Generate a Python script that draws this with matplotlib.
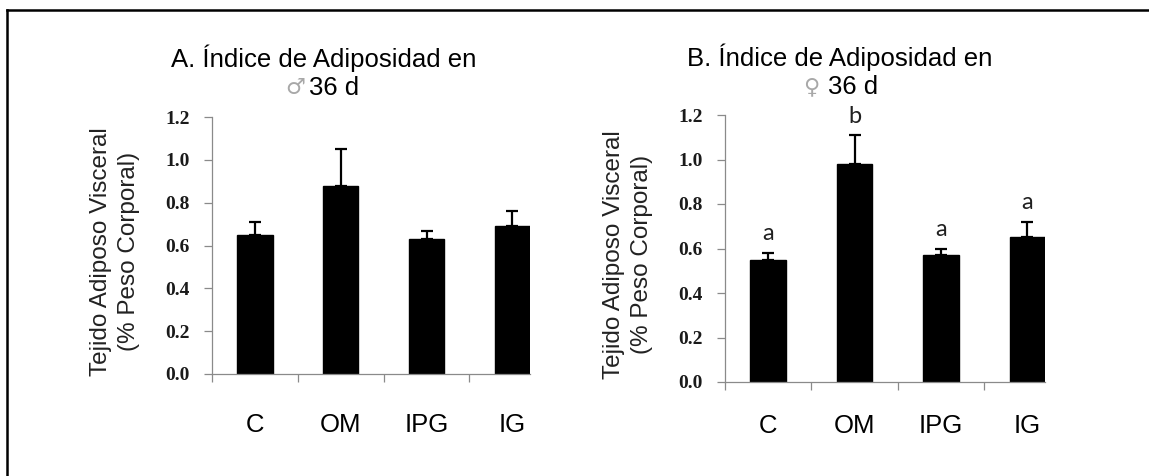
import matplotlib
matplotlib.use("Agg")
import matplotlib.pyplot as plt
from matplotlib.lines import Line2D
import numpy as np

# ---- data ----
groups = ["C", "OM", "IPG", "IG"]

male_mean = [0.65, 0.88, 0.63, 0.69]
male_se = [0.06, 0.17, 0.04, 0.07]

female_mean = [0.55, 0.98, 0.57, 0.65]
female_se = [0.03, 0.13, 0.03, 0.07]
female_letters = ["a", "b", "a", "a"]

y_ticks = [0.0, 0.2, 0.4, 0.6, 0.8, 1.0, 1.2]
y_label = "Tejido Adiposo Visceral\n(% Peso Corporal)"
title_line1 = ["A. Índice de Adiposidad en", "B. Índice de Adiposidad en"]
sex_symbol = ["\u2642", "\u2640"]
title_line2 = "36 d"

# ---- figure ----
W, H = 1149, 476
DPI = 100
fig = plt.figure(figsize=(W / DPI, H / DPI), dpi=DPI)
fig.patch.set_facecolor("white")


def fx(px):
    return px / W


def fy(py):
    return 1 - py / H


SANS = "Liberation Sans"
SERIF = "Liberation Serif"
AXIS_GRAY = "#8a8a8a"
BAR_W = 0.41

# outer frame: top and left edges
fig.add_artist(Line2D([fx(7), 1.0], [fy(10), fy(10)], color="black", lw=1.8,
                      transform=fig.transFigure))
fig.add_artist(Line2D([fx(7), fx(7)], [fy(10), 0.0], color="black", lw=1.8,
                      transform=fig.transFigure))

panels = [
    # axes box in px (left, right, top, bottom) plus text anchors
    dict(box=(212, 530, 117, 374), mean=male_mean, se=male_se, letters=None,
         title_cx=324, t1y=58, t2y=88, sym_x=295, txt_x=309, lab_y=425),
    dict(box=(725, 1045, 115, 382), mean=female_mean, se=female_se,
         letters=female_letters,
         title_cx=840, t1y=57, t2y=87, sym_x=811, txt_x=828, lab_y=426),
]

for i, p in enumerate(panels):
    l, r, t, b = p["box"]
    ax = fig.add_axes([fx(l), fy(b), fx(r - l), (b - t) / H])
    x = np.arange(len(groups))
    mean = np.array(p["mean"])
    se = np.array(p["se"])
    ax.bar(x, mean, width=BAR_W, color="black", edgecolor="black", zorder=2)
    ax.errorbar(x, mean, yerr=[np.zeros_like(se), se], fmt="none",
                ecolor="black", elinewidth=1.6, capsize=4.5, capthick=1.6,
                zorder=3)
    ax.set_ylim(0, 1.2)
    ax.set_xlim(-0.5, len(groups) - 1 + BAR_W / 2)

    for side in ("top", "right"):
        ax.spines[side].set_visible(False)
    for side in ("left", "bottom"):
        ax.spines[side].set_color(AXIS_GRAY)
        ax.spines[side].set_linewidth(0.9)

    ax.set_yticks(y_ticks)
    ax.set_yticklabels([f"{v:.1f}" for v in y_ticks], fontfamily=SERIF,
                       fontsize=14, fontweight="bold", color="#1a1a1a")
    ax.tick_params(axis="y", direction="out", length=6, width=0.9,
                   color=AXIS_GRAY, pad=10)

    # category boundaries get tick marks; labels sit at the centres
    ax.set_xticks(np.arange(len(groups)) - 0.5)
    ax.set_xticklabels([])
    ax.tick_params(axis="x", direction="out", length=6, width=0.9,
                   color=AXIS_GRAY)
    for xi, g in zip(x, groups):
        ax.annotate(g, xy=(xi, 0), xycoords="data",
                    xytext=(0, -(p["lab_y"] - b) * 72 / DPI),
                    textcoords="offset points", ha="center", va="center",
                    fontfamily=SANS, fontsize=18.5, color="black")

    if p["letters"] is not None:
        for xi, m, s, let in zip(x, mean, se, p["letters"]):
            ax.annotate(let, xy=(xi, m + s), xytext=(0, 9),
                        textcoords="offset points", ha="center",
                        va="baseline", fontfamily="Lato", fontsize=17,
                        color="#202020")

    # title
    fig.text(fx(p["title_cx"]), fy(p["t1y"]), title_line1[i], ha="center",
             va="center", fontfamily=SANS, fontsize=18.5, color="black")
    fig.text(fx(p["sym_x"]), fy(p["t2y"]), sex_symbol[i], ha="center",
             va="center", fontfamily="DejaVu Sans", fontsize=16,
             color="#a8a8a8")
    fig.text(fx(p["txt_x"]), fy(p["t2y"]), title_line2, ha="left",
             va="center", fontfamily=SANS, fontsize=18.5, color="black")

    # y label
    fig.text(fx(l - 97), fy((t + b) / 2 + 6), y_label, rotation=90,
             ha="center", va="center", multialignment="center",
             fontfamily=SANS, fontsize=17.5, color="#222222",
             linespacing=1.3)

fig.savefig("out.png", dpi=DPI, facecolor="white")
